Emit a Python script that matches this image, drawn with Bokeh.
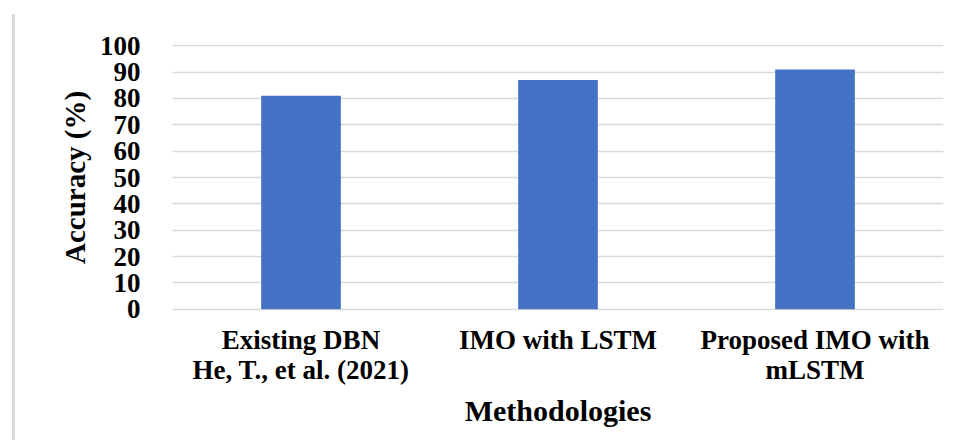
from bokeh.plotting import figure
from bokeh.models import Range1d, FixedTicker, Div
from bokeh.layouts import row
from bokeh.embed import file_html
from bokeh.resources import INLINE

# ---- data ----
categories = ["Existing DBN\nHe, T., et al. (2021)", "IMO with LSTM", "Proposed IMO with\nmLSTM"]
accuracy = [81, 87, 91]
y_ticks = [0, 10, 20, 30, 40, 50, 60, 70, 80, 90, 100]
x_title = "Methodologies"
y_title = "Accuracy (%)"

FONT = "Liberation Serif"
BLUE = "#4472C4"
GRID = "#d9d9d9"

x_pos = [i + 0.5 for i in range(len(categories))]

p = figure(width=934, height=440, title=None, output_backend="svg", toolbar_location=None,
           x_range=Range1d(0, len(categories)), y_range=Range1d(-0.5, 100.5),
           min_border_left=157, min_border_right=6, min_border_top=44, min_border_bottom=130)
p.outline_line_color = None
p.background_fill_color = "white"
p.border_fill_color = "white"

p.vbar(x=x_pos, top=accuracy, width=0.31, bottom=0, fill_color=BLUE, line_color=None)

p.xgrid.grid_line_color = None
p.ygrid.grid_line_color = GRID
p.ygrid.grid_line_width = 1.6
p.ygrid.ticker = FixedTicker(ticks=y_ticks)

xa = p.xaxis[0]
xa.ticker = FixedTicker(ticks=x_pos)
xa.major_label_overrides = {x: c for x, c in zip(x_pos, categories)}
xa.axis_line_color = None
xa.major_tick_line_color = None
xa.minor_tick_line_color = None
xa.major_label_standoff = 8
xa.major_label_text_font = FONT
xa.major_label_text_font_style = "bold"
xa.major_label_text_font_size = "27px"
xa.major_label_text_color = "black"
xa.major_label_text_line_height = 1.0
xa.axis_label = x_title
xa.axis_label_text_font = FONT
xa.axis_label_text_font_style = "bold"
xa.axis_label_text_font_size = "30px"
xa.axis_label_text_color = "black"
xa.axis_label_standoff = 6

ya = p.yaxis[0]
ya.ticker = FixedTicker(ticks=y_ticks)
ya.axis_line_color = None
ya.major_tick_line_color = None
ya.minor_tick_line_color = None
ya.major_label_standoff = 26
ya.major_label_text_font = FONT
ya.major_label_text_font_style = "bold"
ya.major_label_text_font_size = "27px"
ya.major_label_text_color = "black"
ya.axis_label = y_title
ya.axis_label_text_font = FONT
ya.axis_label_text_font_style = "bold"
ya.axis_label_text_font_size = "29px"
ya.axis_label_text_color = "black"
ya.axis_label_standoff = 6

edge = Div(width=3, height=426, margin=(14, 0, 0, 12), styles={"background-color": "#d9d9d9"})
layout = row(edge, p)

open("out.html", "w").write(file_html(layout, INLINE))
